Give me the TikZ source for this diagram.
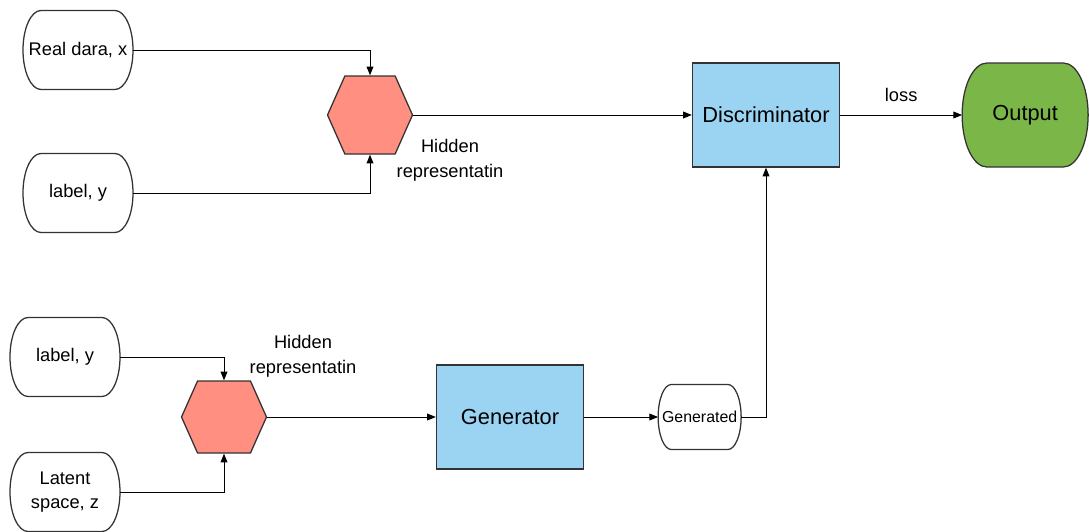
\documentclass[tikz,border=0pt]{standalone}
\usepackage{fontspec}
\setmainfont{Liberation Sans}
\usetikzlibrary{arrows.meta,positioning,shapes.symbols,backgrounds}
\definecolor{salmon}{HTML}{FF8F80}
\definecolor{skyblue}{HTML}{9BD3F2}
\definecolor{leafgreen}{HTML}{7AB648}
\definecolor{edgegray}{HTML}{333333}
\tikzset{
  termbox/.style={
    minimum width=2.75cm,
    minimum height=1.975cm,
    inner sep=0pt,
    outer sep=0pt,
    align=center,
    font=\fontsize{13}{17}\selectfont
  },
  pillline/.style={draw=edgegray,line width=0.9pt,line join=round},
  hexnode/.style={
    signal,
    signal to=west and east,
    signal pointer angle=132,
    draw=edgegray,
    line width=0.9pt,
    fill=salmon,
    minimum width=2.125cm,
    minimum height=1.95cm,
    inner sep=0pt
  },
  netbox/.style={
    draw=edgegray,
    line width=0.9pt,
    fill=skyblue,
    minimum width=3.675cm,
    minimum height=2.6cm,
    font=\fontsize{15.5}{18}\selectfont
  },
  notetext/.style={align=center, font=\fontsize{13}{17.8}\selectfont},
  flowarrow/.style={-{Triangle[length=2.2mm,width=1.7mm]},line width=0.7pt,draw=black}
}

\begin{document}
\begin{tikzpicture}
\useasboundingbox (0,0) rectangle (27.225,-13.275);
% discriminator branch
\node[termbox] (realx) at (1.95,-1.25) {Real dara, x};
\node[termbox] (ytop) at (1.95,-4.825) {label, y};
\node[hexnode] (hextop) at (9.25,-2.875) {};
\node[notetext] (hidtop) at (11.25,-4.0) {Hidden\\representatin};
\node[netbox] (disc) at (19.15,-2.875) {Discriminator};
\node[termbox,right=3.05cm of disc,minimum width=3.15cm,minimum height=2.6cm,
  font=\fontsize{15.5}{18}\selectfont] (out) {Output};
% generator branch
\node[termbox] (ybot) at (1.625,-8.925) {label, y};
\node[termbox] (latent) at (1.625,-12.3) {Latent\\space, z};
\node[hexnode,minimum height=1.8cm] (hexbot) at (5.6,-10.425) {};
\node[notetext] (hidbot) at (7.575,-8.9) {Hidden\\representatin};
\node[netbox] (gen) at (12.75,-10.425) {Generator};
\node[termbox,right=1.85cm of gen,minimum width=2.075cm,minimum height=1.625cm,
  font=\fontsize{11.3}{14}\selectfont] (gend) {Generated};
% terminator outlines behind the texts
\begin{scope}[on background layer]
\foreach \n/\r/\h/\c in {realx/0.45cm/0.99cm/white,ytop/0.45cm/0.99cm/white,
    ybot/0.45cm/0.99cm/white,latent/0.45cm/0.99cm/white,
    gend/0.33cm/0.81cm/white,out/0.62cm/1.3cm/leafgreen}
  \draw[pillline,fill=\c] ([xshift=\r]\n.north west) -- ([xshift=-\r]\n.north east)
    .. controls +({0.5523*\r},0) and +(0,{0.5523*\h}) .. (\n.east)
    .. controls +(0,{-0.5523*\h}) and +({0.5523*\r},0) .. ([xshift=-\r]\n.south east)
    -- ([xshift=\r]\n.south west)
    .. controls +({-0.5523*\r},0) and +(0,{-0.5523*\h}) .. (\n.west)
    .. controls +(0,{0.5523*\h}) and +({-0.5523*\r},0) .. ([xshift=\r]\n.north west)
    -- cycle;
\end{scope}
% connectors
\draw[flowarrow] (realx.east) -| (hextop.north);
\draw[flowarrow] (ytop.east) -| (hextop.south);
\draw[flowarrow] (hextop.east) -- (disc.west);
\draw[flowarrow] (disc.east) -- node[notetext,above=2mm] {loss} (out.west);
\draw[flowarrow] (ybot.east) -| (hexbot.north);
\draw[flowarrow] (latent.east) -| (hexbot.south);
\draw[flowarrow] (hexbot.east) -- (gen.west);
\draw[flowarrow] (gen.east) -- (gend.west);
\draw[flowarrow] (gend.east) -| (disc.south);
\end{tikzpicture}
\end{document}
